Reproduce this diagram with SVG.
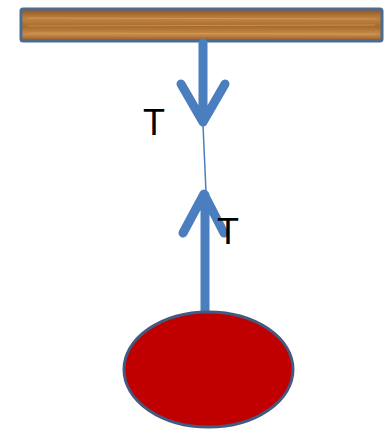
<svg xmlns="http://www.w3.org/2000/svg" width="391" height="433" viewBox="0 0 391 433">
<style>
.arrow{stroke:#4a7ebf;stroke-width:9;fill:none;stroke-linecap:round;stroke-linejoin:round}
.lbl{font-family:"Liberation Sans",Arial,sans-serif;font-size:36px;fill:#000}
</style>
<defs>
<linearGradient id="wood" x1="0" y1="0" x2="0" y2="1">
<stop offset="0" stop-color="#8a5220"/>
<stop offset="0.3" stop-color="#c0843f"/>
<stop offset="0.55" stop-color="#a86a2c"/>
<stop offset="0.8" stop-color="#c98c48"/>
<stop offset="1" stop-color="#8f5624"/>
</linearGradient>
</defs>
<g id="ceiling">
<rect x="21" y="9" width="361" height="32" rx="2" fill="url(#wood)" stroke="#4c6b91" stroke-width="3"/>
<g stroke="#d9a368" stroke-width="1" opacity="0.6">
<line x1="28" y1="18" x2="375" y2="19"/>
<line x1="28" y1="26" x2="375" y2="25"/>
<line x1="28" y1="33" x2="375" y2="34"/>
</g>
</g>
<g id="connectors">
<line x1="203" y1="125" x2="206" y2="192" stroke="#4a7ebf" stroke-width="1.5"/>
<path class="arrow" d="M203 43 L203 122 M181 84 L203 122 L225 84"/>
<path class="arrow" d="M205 312 L205 195 M183 233 L204 194 L224 233"/>
</g>
<g id="labelTop"><text class="lbl" x="143" y="135">T</text></g>
<g id="labelBottom"><text class="lbl" x="217" y="244">T</text></g>
<g id="bob">
<ellipse cx="208.5" cy="369.5" rx="84.5" ry="57.5" fill="#c00000" stroke="#44597f" stroke-width="3"/>
</g>
</svg>
